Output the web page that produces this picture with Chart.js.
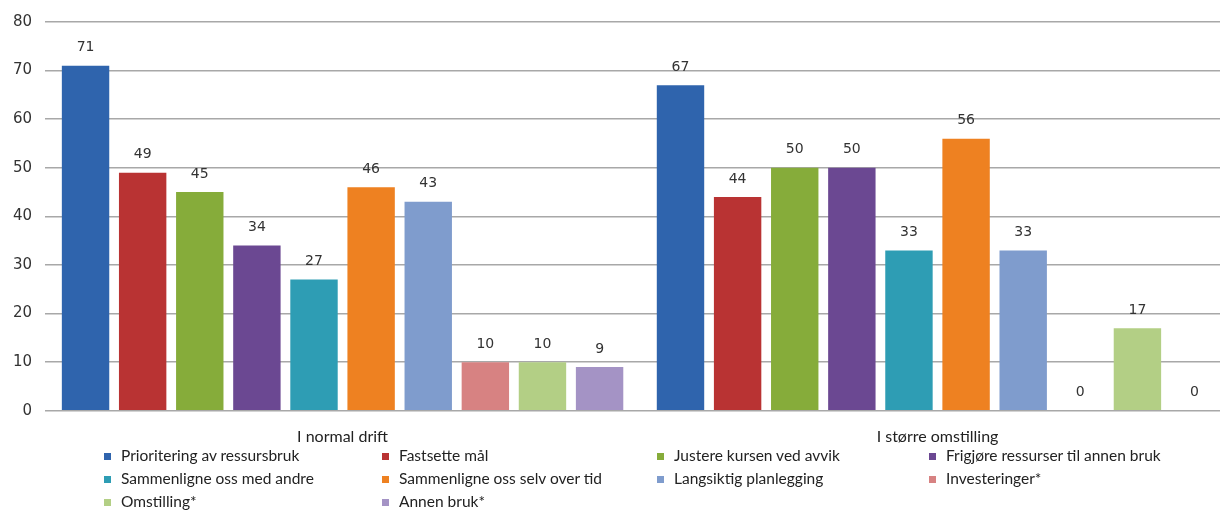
<!DOCTYPE html>
<html>
<head>
<meta charset="utf-8">
<script src="https://cdn.jsdelivr.net/npm/chart.js@4"></script>
<style>
  body { margin: 0; background: #fff; overflow: hidden; }
  #wrap { position: relative; width: 1220px; height: 510px; overflow: hidden; }
  #legend { position: absolute; left: 104px; top: 444px; width: 1116px;
    display: grid; grid-template-columns: 278px 275px 272px 290px;
    font-family: Lato, sans-serif; font-size: 15.5px; color: #222; line-height: 23px; }
  #legend span.box { display: inline-block; width: 7px; height: 7px; margin-right: 10px; vertical-align: 1px; }
</style>
</head>
<body>
<div id="wrap">
  <canvas id="chart" width="1235" height="510"></canvas>
  <div id="legend"></div>
</div>
<script>
var categories = ["I normal drift", "I større omstilling"];
var seriesNames = [
  "Prioritering av ressursbruk",
  "Fastsette mål",
  "Justere kursen ved avvik",
  "Frigjøre ressurser til annen bruk",
  "Sammenligne oss med andre",
  "Sammenligne oss selv over tid",
  "Langsiktig planlegging",
  "Investeringer*",
  "Omstilling*",
  "Annen bruk*"
];
var normalDrift = [71, 49, 45, 34, 27, 46, 43, 10, 10, 9];
var storreOmstilling = [67, 44, 50, 50, 33, 56, 33, 0, 17, 0];
var colors = ["#2f64ad", "#b93333", "#86ac3a", "#6b4892", "#2e9db4", "#ee8121", "#7f9ccd", "#d78282", "#b3cf85", "#a493c5"];
var yTicks = [0, 10, 20, 30, 40, 50, 60, 70, 80];

var datasets = seriesNames.map(function (name, i) {
  return {
    label: name,
    data: [normalDrift[i], storreOmstilling[i]],
    backgroundColor: colors[i],
    borderWidth: 0,
    barPercentage: 0.83,
    categoryPercentage: 0.96
  };
});

// numbers above each bar
var valueLabels = {
  id: "valueLabels",
  afterDatasetsDraw: function (chart) {
    var ctx = chart.ctx;
    ctx.save();
    ctx.font = "14px 'DejaVu Sans'";
    ctx.fillStyle = "#333";
    ctx.textAlign = "center";
    ctx.textBaseline = "middle";
    chart.data.datasets.forEach(function (ds, i) {
      chart.getDatasetMeta(i).data.forEach(function (bar, j) {
        ctx.fillText(ds.data[j], bar.x, bar.y - 18);
      });
    });
    ctx.restore();
  }
};

var chart = new Chart(document.getElementById("chart"), {
  type: "bar",
  data: { labels: categories, datasets: datasets },
  plugins: [valueLabels],
  options: {
    responsive: false,
    animation: false,
    layout: { padding: { top: 1, right: 0, left: 0, bottom: 56 } },
    plugins: { legend: { display: false }, tooltip: { enabled: false } },
    scales: {
      x: {
        grid: { display: false },
        border: { display: false },
        ticks: { font: { family: "Lato", size: 16 }, color: "#222", padding: 8 }
      },
      y: {
        min: 0,
        max: 80,
        afterBuildTicks: function (axis) {
          axis.ticks = yTicks.map(function (v) { return { value: v }; });
        },
        grid: { color: "#a8a8a8", lineWidth: 1.5, drawTicks: false },
        border: { display: false },
        ticks: { font: { family: "DejaVu Sans", size: 15 }, color: "#333", padding: 13 }
      }
    }
  }
});

var legend = document.getElementById("legend");
seriesNames.forEach(function (name, i) {
  var item = document.createElement("div");
  item.innerHTML = '<span class="box" style="background:' + colors[i] + '"></span>' + name;
  legend.appendChild(item);
});
</script>
</body>
</html>
